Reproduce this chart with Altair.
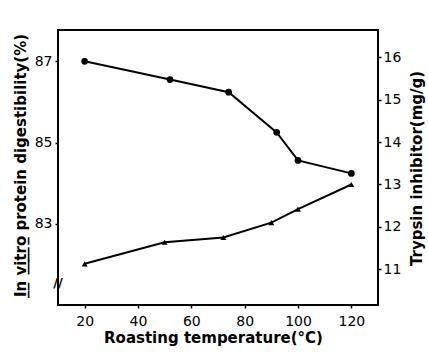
import altair as alt
import pandas as pd

# Roasting temperature (°C) and readings
temp_dig = [20, 52, 74, 92, 100, 120]
digestibility = [87.0, 86.55, 86.24, 85.25, 84.56, 84.24]

temp_ti = [20, 50, 72, 90, 100, 120]
trypsin = [11.13, 11.64, 11.75, 12.10, 12.42, 13.0]

x_ticks = [20, 40, 60, 80, 100, 120]
left_ticks = [83, 85, 87]
right_ticks = [11, 12, 13, 14, 15, 16]

df_dig = pd.DataFrame({"temp": temp_dig, "val": digestibility})
df_ti = pd.DataFrame({"temp": temp_ti, "val": trypsin})

FONT = "DejaVu Sans"

x_scale = alt.Scale(domain=[10, 130], nice=False, zero=False)

x_enc = alt.X(
    "temp:Q",
    scale=x_scale,
    axis=alt.Axis(
        values=x_ticks,
        title="Roasting  temperature(°C)",
        domain=False,
        tickSize=3,
        tickColor="black",
        tickWidth=1.5,
        labelPadding=6,
        titleX=155,
        titleY=32,
        titleBaseline="middle",
        grid=False,
    ),
)

left_scale = alt.Scale(domain=[81.0, 87.77], nice=False, zero=False)
right_scale = alt.Scale(domain=[10.16, 16.64], nice=False, zero=False)

dig_y = alt.Y(
    "val:Q",
    scale=left_scale,
    axis=alt.Axis(
        values=left_ticks,
        orient="left",
        title="I\u0332n\u0332 v\u0332i\u0332t\u0332r\u0332o\u0332 protein digestibility(%)",
        titleAngle=270,
        titleX=-38,
        titleY=135,
        titleBaseline="middle",
        titleAlign="center",
        domain=False,
        tickSize=3,
        tickColor="black",
        tickWidth=1.5,
        labelPadding=3,
        grid=False,
    ),
)

dig_line = alt.Chart(df_dig).mark_line(color="black", strokeWidth=2).encode(x=x_enc, y=dig_y)
dig_pts = alt.Chart(df_dig).mark_point(
    shape="circle", filled=True, color="black", size=45, opacity=1
).encode(x=x_enc, y=dig_y)

# axis break mark on the left axis
brk = alt.Chart(pd.DataFrame({"temp": [10], "val": [81.55], "t": ["//"]})).mark_text(
    font=FONT, fontSize=13, fontWeight="bold", color="black"
).encode(x=alt.X("temp:Q", scale=x_scale),
         y=alt.Y("val:Q", scale=left_scale), text="t:N")

left = alt.layer(dig_line, dig_pts, brk)

ti_y = alt.Y(
    "val:Q",
    scale=right_scale,
    axis=alt.Axis(
        values=right_ticks,
        orient="right",
        title="Trypsin  inhibitor(mg/g)",
        titleAngle=270,
        titleX=38,
        titleY=138,
        titleBaseline="middle",
        titleAlign="center",
        domain=False,
        tickSize=3,
        tickColor="black",
        tickWidth=1.5,
        labelPadding=2,
        grid=False,
    ),
)

ti_line = alt.Chart(df_ti).mark_line(color="black", strokeWidth=2).encode(x=x_enc, y=ti_y)
ti_pts = alt.Chart(df_ti).mark_point(
    shape="triangle-up", filled=True, color="black", size=35, opacity=1
).encode(x=x_enc, y=ti_y)

right = alt.layer(ti_line, ti_pts)

chart = (
    alt.layer(left, right)
    .resolve_scale(y="independent")
    .properties(
        width=320,
        height=275,
        autosize=alt.AutoSizeParams(type="none"),
        padding={"left": 58, "top": 30, "right": 50, "bottom": 49},
        background="white",
    )
    .configure_view(stroke="black", strokeWidth=2)
    .configure_axis(
        labelFont=FONT,
        labelFontSize=14,
        labelColor="black",
        titleFont=FONT,
        titleFontSize=15,
        titleFontWeight="bold",
        titleColor="black",
    )
)

chart.save("out.html", embed_options={"renderer": "svg", "actions": False})
